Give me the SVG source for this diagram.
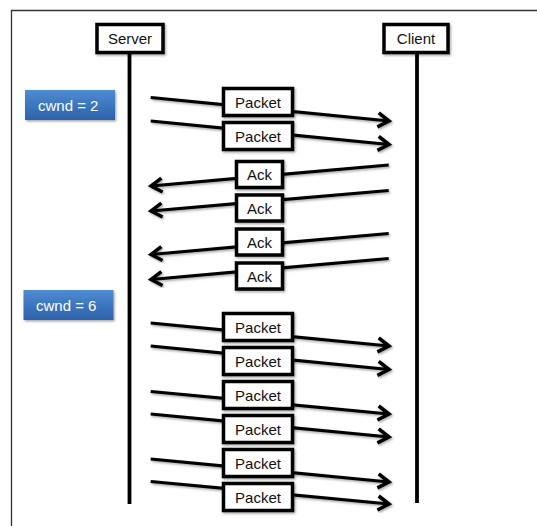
<svg xmlns="http://www.w3.org/2000/svg" width="537" height="526" viewBox="0 0 537 526">
<defs>
<style>
.box{fill:#fff;stroke:#000;stroke-width:3.5;filter:url(#sh)}
.lbl{font-family:"Liberation Sans",Arial,sans-serif;font-size:15px;fill:#111;text-anchor:middle}
.life{stroke:#000;stroke-width:3.8;fill:none}
.msg{stroke:#000;stroke-width:3.2;fill:none;marker-end:url(#ah);filter:url(#sh)}
.cw{fill:url(#blue);filter:url(#sh)}
.cwt{font-family:"Liberation Sans",Arial,sans-serif;font-size:15px;fill:#fff}
</style>
<linearGradient id="blue" x1="0" y1="0" x2="0" y2="1">
<stop offset="0" stop-color="#4d8bd3"/>
<stop offset="1" stop-color="#2c62aa"/>
</linearGradient>
<filter id="sh" x="-20%" y="-20%" width="140%" height="160%">
<feDropShadow dx="1.2" dy="1.5" stdDeviation="1" flood-color="#000" flood-opacity="0.35"/>
</filter>
<marker id="ah" markerUnits="userSpaceOnUse" markerWidth="20" markerHeight="20" viewBox="-14 -10 20 20" refX="0" refY="0" orient="auto">
<path d="M-11,-7 L0,0 L-11,7" fill="none" stroke="#000" stroke-width="3.5" stroke-linejoin="miter"/>
</marker>
</defs>
<rect width="537" height="526" fill="#fff"/>
<path d="M11.5,526 V10.5 H537" fill="none" stroke="#333" stroke-width="1.3"/>

<g id="lifelines">
<line class="life" x1="129.5" y1="53" x2="129.5" y2="504"/>
<line class="life" x1="417" y1="53" x2="417" y2="503"/>
</g>

<g id="server"><rect class="box" x="97" y="24.5" width="66" height="28"/><text class="lbl" x="130" y="44">Server</text></g>
<g id="client"><rect class="box" x="384" y="24.5" width="64" height="28"/><text class="lbl" x="416" y="44">Client</text></g>

<g id="cwnd2"><rect class="cw" x="25" y="90" width="90" height="30"/><text class="cwt" x="38" y="111">cwnd = 2</text></g>
<g id="cwnd6"><rect class="cw" x="23.5" y="290" width="90" height="30"/><text class="cwt" x="36" y="310.5">cwnd = 6</text></g>

<g id="connectors">
<line class="msg" x1="150.7" y1="97.5" x2="389" y2="121"/>
<line class="msg" x1="150.7" y1="121" x2="389" y2="144.5"/>
<line class="msg" x1="388.7" y1="165" x2="151" y2="186"/>
<line class="msg" x1="388.7" y1="190.5" x2="151" y2="211"/>
<line class="msg" x1="388.7" y1="233.5" x2="151" y2="254.5"/>
<line class="msg" x1="388.7" y1="258.5" x2="151" y2="279.5"/>
<line class="msg" x1="150.7" y1="323" x2="389" y2="346"/>
<line class="msg" x1="150.7" y1="346" x2="389" y2="369.5"/>
<line class="msg" x1="150.7" y1="391.5" x2="389" y2="414"/>
<line class="msg" x1="150.7" y1="414" x2="389" y2="437"/>
<line class="msg" x1="150.7" y1="459" x2="389" y2="482"/>
<line class="msg" x1="150.7" y1="481.5" x2="389" y2="504"/>
</g>

<g id="packet1"><rect class="box" x="223.5" y="88.5" width="69" height="27"/><text class="lbl" x="258" y="107.5">Packet</text></g>
<g id="packet2"><rect class="box" x="223.5" y="122.5" width="69" height="27"/><text class="lbl" x="258" y="141.5">Packet</text></g>
<g id="ack1"><rect class="box" x="236.5" y="161.5" width="46" height="26"/><text class="lbl" x="259.5" y="180">Ack</text></g>
<g id="ack2"><rect class="box" x="236.5" y="195" width="46" height="26"/><text class="lbl" x="259.5" y="213.5">Ack</text></g>
<g id="ack3"><rect class="box" x="236.5" y="229" width="46" height="26"/><text class="lbl" x="259.5" y="247.5">Ack</text></g>
<g id="ack4"><rect class="box" x="236.5" y="263" width="46" height="26"/><text class="lbl" x="259.5" y="281.5">Ack</text></g>
<g id="packet3"><rect class="box" x="223.5" y="313.5" width="69" height="27"/><text class="lbl" x="258" y="332.5">Packet</text></g>
<g id="packet4"><rect class="box" x="223.5" y="347.5" width="69" height="27"/><text class="lbl" x="258" y="366.5">Packet</text></g>
<g id="packet5"><rect class="box" x="223.5" y="381.5" width="69" height="27"/><text class="lbl" x="258" y="400.5">Packet</text></g>
<g id="packet6"><rect class="box" x="223.5" y="415.5" width="69" height="27"/><text class="lbl" x="258" y="434.5">Packet</text></g>
<g id="packet7"><rect class="box" x="223.5" y="449.5" width="69" height="27"/><text class="lbl" x="258" y="468.5">Packet</text></g>
<g id="packet8"><rect class="box" x="223.5" y="483.5" width="69" height="27"/><text class="lbl" x="258" y="502.5">Packet</text></g>
</svg>
